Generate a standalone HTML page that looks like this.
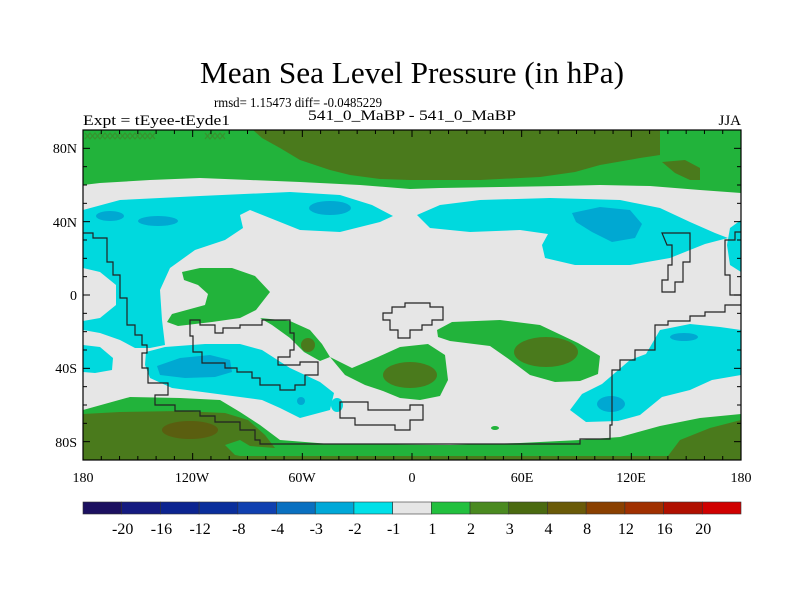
<!DOCTYPE html>
<html><head><meta charset="utf-8"><style>
html,body{margin:0;padding:0;background:#fff;}
svg{display:block;font-family:"Liberation Serif",serif;}
</style></head><body>
<svg width="800" height="600" viewBox="0 0 800 600">
<rect x="0" y="0" width="800" height="600" fill="#fff"/>
<text x="412" y="83" font-size="31" text-anchor="middle" textLength="424" lengthAdjust="spacingAndGlyphs">Mean Sea Level Pressure (in hPa)</text>
<text x="214" y="107" font-size="14" textLength="168" lengthAdjust="spacingAndGlyphs">rmsd= 1.15473 diff= -0.0485229</text>
<text x="83" y="125" font-size="15" textLength="147" lengthAdjust="spacingAndGlyphs">Expt = tEyee-tEyde1</text>
<text x="412" y="120" font-size="15" text-anchor="middle" textLength="208" lengthAdjust="spacingAndGlyphs">541_0_MaBP - 541_0_MaBP</text>
<text x="741" y="125" font-size="15" text-anchor="end">JJA</text>

<clipPath id="mapclip"><rect x="83" y="130" width="658" height="330"/></clipPath>
<g clip-path="url(#mapclip)">
<rect x="83" y="130" width="658" height="330" fill="#e6e6e6"/>
<path fill="#22b33b" d="M83,130 L741,130 L741,193 L700,190 L650,186 L600,185 L560,186 L500,187 L440,188 L410,189 L360,185 L300,182 L250,180 L200,178 L150,180 L100,183 L83,185 Z"/>
<path fill="#4a7a1c" d="M253,130 L660,130 L660,155 L640,158 L600,165 L575,172 L540,177 L480,180 L410,180 L380,179 L350,175 L330,170 L300,160 L280,148 L262,138 Z"/>
<path fill="#4a7a1c" d="M662,162 L685,160 L700,168 L700,180 L690,180 L675,173 Z"/>
<path fill="none" stroke="#3f8a2a" stroke-width="1.2" opacity="0.8" d="M85,133 L90,139 L95,133 L100,139 L105,133 L110,139 L115,133 L120,139 L125,133 L130,139 L135,133 L140,139 L145,133 L150,139 L155,133 M85,139 L90,133 L95,139 L100,133 L105,139 L110,133 L115,139 L120,133 L125,139 L130,133 L135,139 L140,133 L145,139 L150,133 L155,139 M205,133 L210,139 L215,133 L220,139 L225,133 M205,139 L210,133 L215,139 L220,133 L225,139"/>
<path fill="#00d9de" d="M83,210 L120,200 L200,196 L290,192 L340,195 L372,205 L393,216 L380,222 L340,232 L300,230 L275,220 L250,210 L240,215 L243,228 L225,240 L195,250 L170,268 L160,290 L162,320 L165,345 L150,348 L135,348 L120,340 L100,333 L83,330 L83,321 L100,318 L116,305 L116,285 L100,272 L83,268 Z"/>
<path fill="#00d9de" d="M83,345 L100,347 L113,358 L112,370 L95,373 L83,372 Z"/>
<ellipse cx="110" cy="216" rx="14" ry="5" fill="#00a8d2"/>
<ellipse cx="158" cy="221" rx="20" ry="5" fill="#00a8d2"/>
<ellipse cx="330" cy="208" rx="21" ry="7" fill="#00a8d2"/>
<path fill="#00d9de" d="M417,215 L440,205 L480,200 L550,198 L620,200 L660,208 L690,222 L715,233 L728,238 L705,244 L690,250 L670,258 L630,265 L575,265 L545,258 L542,245 L548,234 L520,230 L470,232 L430,228 Z"/>
<path fill="#00a8d2" d="M572,213 L600,207 L630,210 L642,224 L635,238 L612,242 L592,232 L576,222 Z"/>
<path fill="#00d9de" d="M741,220 L730,228 L727,245 L730,265 L741,272 Z"/>
<path fill="#00d9de" d="M146,352 L165,347 L205,344 L240,344 L262,350 L290,368 L320,382 L334,393 L330,410 L300,418 L280,408 L262,400 L210,393 L172,388 L150,378 L145,365 Z"/>
<path fill="#00a8d2" d="M157,366 L180,358 L210,355 L230,360 L232,372 L215,377 L185,378 L160,375 Z"/>
<ellipse cx="301" cy="401" rx="4" ry="4" fill="#00a8d2"/>
<ellipse cx="337" cy="405" rx="6" ry="7" fill="#00d9de"/>
<path fill="#22b33b" d="M182,272 L200,268 L232,268 L255,276 L270,292 L256,310 L240,318 L212,322 L178,326 L167,322 L172,314 L205,305 L208,294 L198,285 L184,280 Z"/>
<path fill="#22b33b" d="M260,318 L290,321 L310,330 L322,344 L330,357 L320,361 L304,352 L290,338 L272,325 Z"/>
<ellipse cx="308" cy="345" rx="7" ry="7" fill="#4a7a1c"/>
<path fill="#22b33b" d="M330,357 L352,368 L378,357 L400,347 L428,344 L445,355 L448,380 L440,396 L420,400 L400,398 L383,391 L365,385 L345,375 Z"/>
<ellipse cx="410" cy="375" rx="27" ry="13" fill="#4a7a1c"/>
<path fill="#22b33b" d="M437,330 L452,322 L500,320 L540,325 L578,343 L600,356 L598,374 L580,381 L555,382 L530,375 L510,360 L490,346 L450,341 L438,337 Z"/>
<ellipse cx="546" cy="352" rx="32" ry="15" fill="#4a7a1c"/>
<ellipse cx="495" cy="428" rx="4" ry="2" fill="#22b33b"/>
<path fill="#00d9de" d="M660,330 L690,324 L720,327 L741,330 L741,375 L712,380 L690,390 L662,397 L640,415 L618,421 L586,422 L570,410 L582,394 L602,384 L630,360 L646,354 Z"/>
<ellipse cx="684" cy="337" rx="14" ry="4" fill="#00a8d2"/>
<ellipse cx="611" cy="404" rx="14" ry="8" fill="#00a8d2"/>
<path fill="#22b33b" d="M83,410 L130,397 L180,398 L220,400 L240,412 L260,425 L280,440 L330,444 L450,445 L520,443 L580,440 L620,437 L660,426 L700,418 L741,414 L741,460 L83,460 Z"/>
<path fill="#4a7a1c" d="M83,414 L120,412 L180,411 L225,413 L248,420 L265,435 L275,448 L250,446 L240,440 L225,445 L235,455 L260,460 L83,460 Z"/>
<ellipse cx="190" cy="430" rx="28" ry="9" fill="#5a5e10"/>
<path fill="#4a7a1c" d="M665,460 L680,440 L710,428 L741,420 L741,460 Z"/>
<rect x="83" y="456" width="658" height="4" fill="#4a7a1c"/>
<g fill="none" stroke="#222" stroke-width="1.2">
<path d="M83,233 L93,233 L93,238 L107,238 L107,262 L113,262 L113,275 L120,275 L120,298 L127,298 L127,325 L135,325 L135,335 L142,335 L142,345 L147,345 L147,353 L142,353 L142,368 L148,368 L148,383 L168,383 L168,395 L155,395 L155,405 L175,405 L175,411 L200,411 L200,416 L215,416 L215,422 L240,422 L240,430 L255,430 L255,440 L260,440 L260,444 L580,444 L580,439 L610,439 L610,425 L612,425 L612,370 L620,370 L620,360 L635,360 L635,350 L655,350 L655,325 L668,325 L668,321 L690,321 L690,316 L705,316 L705,312 L725,312 L725,305 L741,305"/>
<path d="M190,328 L190,320 L200,320 L200,325 L215,325 L215,333 L223,333 L223,328 L240,328 L240,325 L262,325 L262,320 L290,320 L290,333 L294,333 L294,350 L290,350 L290,357 L278,357 L278,365 L300,365 L300,362 L318,362 L318,375 L305,375 L305,385 L295,385 L295,390 L280,390 L280,385 L260,385 L260,378 L252,378 L252,372 L237,372 L237,368 L225,368 L225,363 L202,363 L202,352 L193,352 L193,336 L190,336 Z"/>
<path d="M383,313 L392,313 L392,307 L405,307 L405,303 L430,303 L430,307 L443,307 L443,320 L432,320 L432,325 L422,325 L422,330 L410,330 L410,338 L398,338 L398,330 L390,330 L390,320 L383,320 Z"/>
<path d="M340,402 L368,402 L368,410 L410,410 L410,405 L423,405 L423,420 L410,420 L410,430 L395,430 L395,425 L355,425 L355,418 L340,418 Z"/>
<path d="M662,233 L690,233 L690,262 L683,262 L683,282 L675,282 L675,292 L662,292 L662,280 L668,280 L668,265 L672,265 L672,245 L667,245 Z"/>
<path d="M741,232 L735,232 L735,240 L725,240 L725,275 L730,275 L730,295 L741,295"/>
</g>
</g>

<g id="ticks" stroke="#000" stroke-width="1"></g>
<rect x="83" y="130" width="658" height="330" fill="none" stroke="#000" stroke-width="1.2"/>

<g font-size="14">
<text x="77" y="153" text-anchor="end">80N</text>
<text x="77" y="227" text-anchor="end">40N</text>
<text x="77" y="300" text-anchor="end">0</text>
<text x="77" y="373" text-anchor="end">40S</text>
<text x="77" y="447" text-anchor="end">80S</text>
</g>
<g font-size="14" text-anchor="middle">
<text x="83" y="482">180</text>
<text x="192" y="482">120W</text>
<text x="302" y="482">60W</text>
<text x="412" y="482">0</text>
<text x="522" y="482">60E</text>
<text x="631" y="482">120E</text>
<text x="741" y="482">180</text>
</g>
<g id="colorbar"></g>

<script>
const cbColors = ["#1c1060","#141a80","#0c2490","#0a2e9c","#1040b0","#0a70c0","#00a8d8","#00e0e8","#e6e6e6","#22c03e","#4a8a20","#4a6a10","#6a5a08","#8a4000","#a03000","#b01000","#d00000"];
const cbLabels = ["-20","-16","-12","-8","-4","-3","-2","-1","1","2","3","4","8","12","16","20"];
const NS = "http://www.w3.org/2000/svg";
const cb = document.getElementById("colorbar");
const cbX0 = 83, cbX1 = 741, cbY = 502, cbH = 12;
const bw = (cbX1 - cbX0) / cbColors.length;
cbColors.forEach((c, i) => {
  const r = document.createElementNS(NS, "rect");
  r.setAttribute("x", cbX0 + i * bw); r.setAttribute("y", cbY);
  r.setAttribute("width", bw); r.setAttribute("height", cbH);
  r.setAttribute("fill", c); r.setAttribute("stroke", "#333"); r.setAttribute("stroke-width", "0.6");
  
  
  cb.appendChild(r);
});
cbLabels.forEach((l, i) => {
  const t = document.createElementNS(NS, "text");
  t.setAttribute("x", cbX0 + (i + 1) * bw + 1); t.setAttribute("y", 534);
  t.setAttribute("text-anchor", "middle"); t.setAttribute("font-size", "16");
  t.textContent = l;
  
  
  cb.appendChild(t);
});
const tk = document.getElementById("ticks");
const x0 = 83, x1 = 741, y0 = 130, y1 = 460;
const lonX = lon => x0 + (lon + 180) / 360 * (x1 - x0);
const latY = lat => y0 + (90 - lat) / 180 * (y1 - y0);
function line(a, b, c, d) {
  const l = document.createElementNS(NS, "line");
  l.setAttribute("x1", a); l.setAttribute("y1", b); l.setAttribute("x2", c); l.setAttribute("y2", d);
  
  
  tk.appendChild(l);
}
for (let lon = -180; lon <= 180; lon += 10) {
  const len = lon % 60 === 0 ? 7 : 4, x = lonX(lon);
  line(x, y0, x, y0 + len); line(x, y1, x, y1 - len);
}
for (let lat = -80; lat <= 80; lat += 10) {
  const len = lat % 40 === 0 ? 7 : 4, y = latY(lat);
  line(x0, y, x0 + len, y); line(x1, y, x1 - len, y);
}
</script>
</svg>
</body></html>
